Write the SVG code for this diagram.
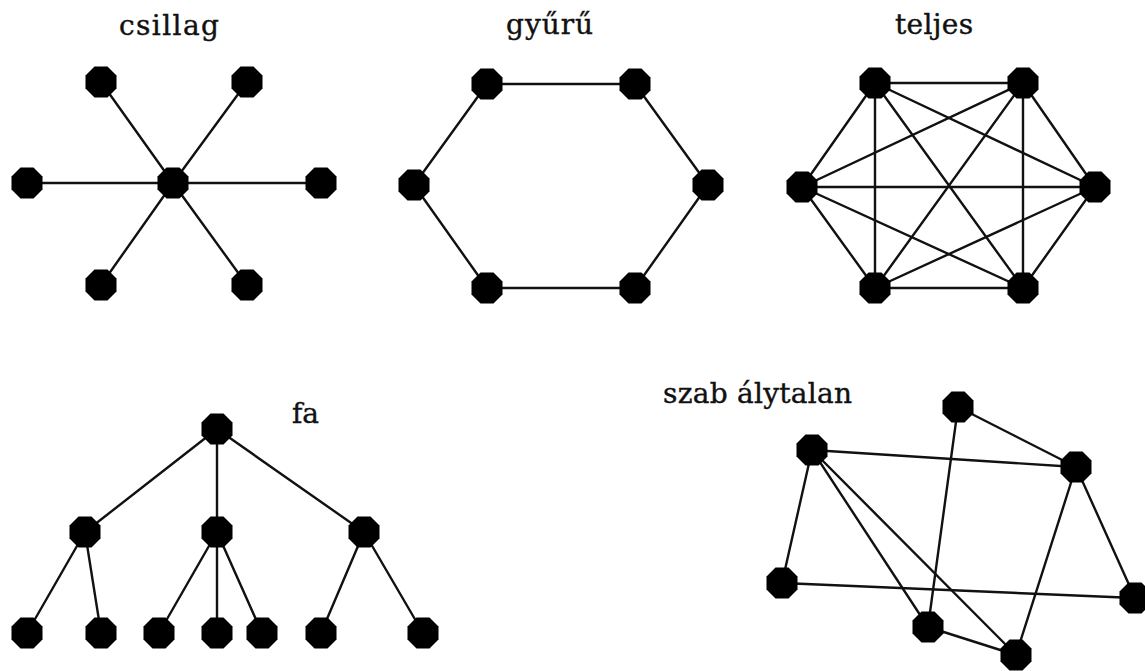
<svg xmlns="http://www.w3.org/2000/svg" xmlns:xlink="http://www.w3.org/1999/xlink" width="1145" height="671" viewBox="0 0 1145 671">
<style>
.lbl{font-family:"DejaVu Serif","Liberation Serif",serif;font-size:28px;fill:#111;stroke:#111;stroke-width:0.4}
.e line{stroke:#111;stroke-width:2.4;stroke-linecap:round}
.n{fill:#000}
</style>
<defs>
<polygon id="oct" points="-6.5,-15.5 6.5,-15.5 15.5,-6.5 15.5,6.5 6.5,15.5 -6.5,15.5 -15.5,6.5 -15.5,-6.5"/>
</defs>
<rect width="1145" height="671" fill="#fff"/>
<g id="labels">
<text class="lbl" x="119" y="35" textLength="100">csillag</text>
<text class="lbl" x="506" y="34" textLength="87">gyűrű</text>
<text class="lbl" x="895" y="34" textLength="78">teljes</text>
<text class="lbl" x="292" y="423">fa</text>
<text class="lbl" x="663" y="403" textLength="189">szab álytalan</text>
</g>
<g id="connectors" class="e">
<!-- star -->
<line x1="173" y1="183" x2="101" y2="82"/>
<line x1="173" y1="183" x2="247" y2="82"/>
<line x1="173" y1="183" x2="27" y2="183"/>
<line x1="173" y1="183" x2="321" y2="183"/>
<line x1="173" y1="183" x2="101" y2="285"/>
<line x1="173" y1="183" x2="247" y2="285"/>
<!-- ring -->
<line x1="487" y1="84" x2="635" y2="84"/>
<line x1="635" y1="84" x2="708" y2="185"/>
<line x1="708" y1="185" x2="635" y2="288"/>
<line x1="635" y1="288" x2="487" y2="288"/>
<line x1="487" y1="288" x2="414" y2="185"/>
<line x1="414" y1="185" x2="487" y2="84"/>
<!-- complete -->
<line x1="875" y1="83" x2="1023" y2="83"/>
<line x1="875" y1="83" x2="802" y2="187"/>
<line x1="875" y1="83" x2="1095" y2="187"/>
<line x1="875" y1="83" x2="875" y2="288"/>
<line x1="875" y1="83" x2="1023" y2="288"/>
<line x1="1023" y1="83" x2="802" y2="187"/>
<line x1="1023" y1="83" x2="1095" y2="187"/>
<line x1="1023" y1="83" x2="875" y2="288"/>
<line x1="1023" y1="83" x2="1023" y2="288"/>
<line x1="802" y1="187" x2="1095" y2="187"/>
<line x1="802" y1="187" x2="875" y2="288"/>
<line x1="802" y1="187" x2="1023" y2="288"/>
<line x1="1095" y1="187" x2="875" y2="288"/>
<line x1="1095" y1="187" x2="1023" y2="288"/>
<line x1="875" y1="288" x2="1023" y2="288"/>
<!-- tree -->
<line x1="217" y1="429" x2="85" y2="532"/>
<line x1="217" y1="429" x2="217" y2="532"/>
<line x1="217" y1="429" x2="364" y2="532"/>
<line x1="85" y1="532" x2="27" y2="633"/>
<line x1="85" y1="532" x2="101" y2="633"/>
<line x1="217" y1="532" x2="159" y2="633"/>
<line x1="217" y1="532" x2="217" y2="633"/>
<line x1="217" y1="532" x2="262" y2="633"/>
<line x1="364" y1="532" x2="321" y2="633"/>
<line x1="364" y1="532" x2="423" y2="633"/>
<!-- irregular -->
<line x1="958" y1="407" x2="1076" y2="467"/>
<line x1="958" y1="407" x2="928" y2="627"/>
<line x1="812" y1="450" x2="1076" y2="467"/>
<line x1="812" y1="450" x2="782" y2="583"/>
<line x1="812" y1="450" x2="928" y2="627"/>
<line x1="812" y1="450" x2="1016" y2="655"/>
<line x1="782" y1="583" x2="1135" y2="598"/>
<line x1="1076" y1="467" x2="1135" y2="598"/>
<line x1="1076" y1="467" x2="1016" y2="655"/>
<line x1="928" y1="627" x2="1016" y2="655"/>
</g>
<g id="star" class="n">
<use id="s-c" xlink:href="#oct" x="173" y="183"/>
<use id="s-tl" xlink:href="#oct" x="101" y="82"/>
<use id="s-tr" xlink:href="#oct" x="247" y="82"/>
<use id="s-l" xlink:href="#oct" x="27" y="183"/>
<use id="s-r" xlink:href="#oct" x="321" y="183"/>
<use id="s-bl" xlink:href="#oct" x="101" y="285"/>
<use id="s-br" xlink:href="#oct" x="247" y="285"/>
</g>
<g id="ring" class="n">
<use id="r-tl" xlink:href="#oct" x="487" y="84"/>
<use id="r-tr" xlink:href="#oct" x="635" y="84"/>
<use id="r-l" xlink:href="#oct" x="414" y="185"/>
<use id="r-r" xlink:href="#oct" x="708" y="185"/>
<use id="r-bl" xlink:href="#oct" x="487" y="288"/>
<use id="r-br" xlink:href="#oct" x="635" y="288"/>
</g>
<g id="complete" class="n">
<use id="k-tl" xlink:href="#oct" x="875" y="83"/>
<use id="k-tr" xlink:href="#oct" x="1023" y="83"/>
<use id="k-l" xlink:href="#oct" x="802" y="187"/>
<use id="k-r" xlink:href="#oct" x="1095" y="187"/>
<use id="k-bl" xlink:href="#oct" x="875" y="288"/>
<use id="k-br" xlink:href="#oct" x="1023" y="288"/>
</g>
<g id="tree" class="n">
<use id="t-root" xlink:href="#oct" x="217" y="429"/>
<use id="t-m1" xlink:href="#oct" x="85" y="532"/>
<use id="t-m2" xlink:href="#oct" x="217" y="532"/>
<use id="t-m3" xlink:href="#oct" x="364" y="532"/>
<use id="t-l1" xlink:href="#oct" x="27" y="633"/>
<use id="t-l2" xlink:href="#oct" x="101" y="633"/>
<use id="t-l3" xlink:href="#oct" x="159" y="633"/>
<use id="t-l4" xlink:href="#oct" x="217" y="633"/>
<use id="t-l5" xlink:href="#oct" x="262" y="633"/>
<use id="t-l6" xlink:href="#oct" x="321" y="633"/>
<use id="t-l7" xlink:href="#oct" x="423" y="633"/>
</g>
<g id="irregular" class="n">
<use id="i-a" xlink:href="#oct" x="958" y="407"/>
<use id="i-b" xlink:href="#oct" x="812" y="450"/>
<use id="i-c" xlink:href="#oct" x="1076" y="467"/>
<use id="i-d" xlink:href="#oct" x="782" y="583"/>
<use id="i-e" xlink:href="#oct" x="1135" y="598"/>
<use id="i-f" xlink:href="#oct" x="928" y="627"/>
<use id="i-g" xlink:href="#oct" x="1016" y="655"/>
</g>
</svg>
